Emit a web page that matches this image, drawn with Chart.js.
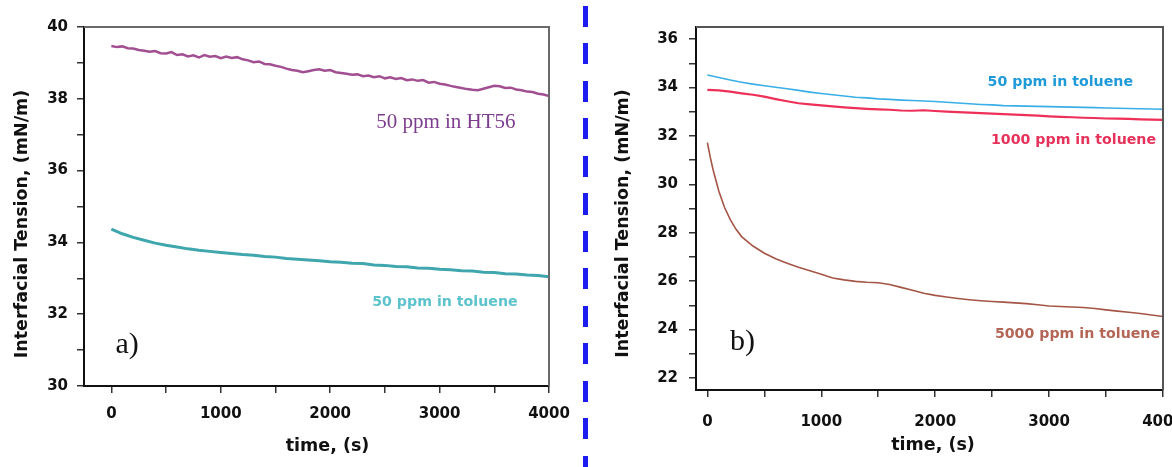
<!DOCTYPE html>
<html><head><meta charset="utf-8">
<script src="https://cdn.jsdelivr.net/npm/chart.js@4.4.1/dist/chart.umd.min.js"></script>
<style>
html,body{margin:0;padding:0;background:#fff;width:1172px;height:467px;overflow:hidden;}
#ca{position:absolute;left:0;top:0;}
#cb{position:absolute;left:590px;top:0;}
#sep{position:absolute;left:583px;top:6px;width:5px;height:470px;
 background:repeating-linear-gradient(to bottom,#1c1cf0 0px,#1c1cf0 21px,transparent 21px,transparent 37.5px);}
</style></head><body>
<canvas id="ca" width="580" height="467"></canvas>
<div id="sep"></div>
<canvas id="cb" width="582" height="467"></canvas>
<script>
// ---------- Panel a data ----------
const timeHT56 = [0,50,100,150,200,250,300,350,400,450,500,550,600,650,700,750,800,850,900,950,
 1000,1050,1100,1150,1200,1250,1300,1350,1400,1450,1500,1550,1600,1650,1700,1750,1800,1850,1900,1950,
 2000,2050,2100,2150,2200,2250,2300,2350,2400,2450,2500,2550,2600,2650,2700,2750,2800,2850,2900,2950,
 3000,3050,3100,3150,3200,3250,3300,3350,3400,3450,3500,3550,3600,3650,3700,3750,3800,3850,3900,3950,4000];
const ht56 = [39.47,39.44,39.46,39.41,39.40,39.36,39.34,39.31,39.33,39.27,39.26,39.30,39.22,39.24,39.18,39.21,39.15,39.22,39.17,39.19,
 39.13,39.18,39.14,39.16,39.10,39.07,39.02,39.04,38.97,38.96,38.92,38.89,38.84,38.80,38.78,38.74,38.77,38.80,38.82,38.78,
 38.80,38.74,38.72,38.70,38.67,38.68,38.63,38.65,38.60,38.63,38.57,38.60,38.55,38.58,38.52,38.54,38.50,38.52,38.45,38.47,
 38.42,38.40,38.36,38.33,38.30,38.27,38.25,38.24,38.28,38.32,38.36,38.35,38.30,38.31,38.26,38.24,38.20,38.19,38.14,38.12,38.08];
const time100 = [0,100,200,300,400,500,600,700,800,900,1000,1100,1200,1300,1400,1500,1600,1700,1800,1900,
 2000,2100,2200,2300,2400,2500,2600,2700,2800,2900,3000,3100,3200,3300,3400,3500,3600,3700,3800,3900,4000];
const tolueneA = [34.37,34.24,34.14,34.06,33.98,33.92,33.87,33.82,33.78,33.75,33.72,33.69,33.66,33.64,33.61,33.59,33.55,33.53,33.51,33.49,
 33.46,33.45,33.42,33.41,33.37,33.36,33.33,33.32,33.29,33.28,33.25,33.24,33.21,33.20,33.17,33.16,33.13,33.12,33.09,33.08,33.04];

// ---------- Panel b data ----------
const toluene50 = [34.52,34.41,34.31,34.22,34.14,34.07,34.01,33.95,33.88,33.81,33.75,33.70,33.65,33.60,33.57,33.53,33.51,33.48,33.46,33.44,
 33.42,33.39,33.36,33.33,33.30,33.28,33.25,33.24,33.23,33.22,33.21,33.20,33.19,33.18,33.17,33.15,33.14,33.13,33.12,33.11,33.10];
const toluene1000 = [33.90,33.88,33.83,33.76,33.70,33.62,33.52,33.43,33.35,33.30,33.26,33.22,33.18,33.15,33.12,33.10,33.08,33.05,33.04,33.06,
 33.03,33.00,32.98,32.96,32.94,32.92,32.90,32.88,32.86,32.84,32.81,32.79,32.77,32.75,32.74,32.72,32.71,32.70,32.68,32.67,32.66];
const time5000 = [0,25,50,100,150,200,250,300,400,500,600,700,800,900,1000,1100,1200,1300,1400,1500,1600,1700,1800,1900,
 2000,2100,2200,2300,2400,2500,2600,2700,2800,2900,3000,3100,3200,3300,3400,3500,3600,3700,3800,3900,4000];
const toluene5000 = [31.72,31.12,30.60,29.72,29.05,28.55,28.15,27.84,27.45,27.15,26.92,26.74,26.57,26.43,26.28,26.13,26.05,25.99,25.95,25.93,
 25.86,25.74,25.62,25.50,25.41,25.34,25.28,25.23,25.19,25.16,25.13,25.10,25.07,25.02,24.97,24.95,24.93,24.91,24.87,24.81,
 24.76,24.71,24.66,24.60,24.54];

// ---------- ticks ----------
const xTicks = [0,500,1000,1500,2000,2500,3000,3500,4000];
const xTickLabels = [0,1000,2000,3000,4000];
const yTicksA = [30,31,32,33,34,35,36,37,38,39,40];
const yTickLabelsA = [30,32,34,36,38,40];
const yTicksB = [22,23,24,25,26,27,28,29,30,31,32,33,34,35,36];
const yTickLabelsB = [22,24,26,28,30,32,34,36];

const SANS = '"DejaVu Sans", "Liberation Sans", sans-serif';
const SERIF = '"Liberation Serif", "Times New Roman", serif';

const pts = (xs, ys) => xs.map((x, i) => ({x, y: ys[i]}));

const panelPlugin = {
  id: 'panel',
  afterDraw(chart, args, o) {
    const {ctx, chartArea: a, scales} = chart;
    ctx.save();
    ctx.strokeStyle = o.frameColor; ctx.lineWidth = 2;
    ctx.beginPath(); ctx.moveTo(a.left, a.top); ctx.lineTo(a.right, a.top); ctx.lineTo(a.right, a.bottom); ctx.stroke();
    for (const t of o.texts) {
      ctx.font = t.font; ctx.fillStyle = t.color; ctx.textAlign = 'left'; ctx.textBaseline = 'middle';
      ctx.fillText(t.text, scales.x.getPixelForValue(t.x), scales.y.getPixelForValue(t.y));
    }
    ctx.fillStyle = '#111'; ctx.font = 'bold 17.5px ' + SANS; ctx.textAlign = 'center'; ctx.textBaseline = 'middle';
    ctx.fillText('time, (s)', o.xTitle[0], o.xTitle[1]);
    ctx.translate(o.yTitle[0], o.yTitle[1]); ctx.rotate(-Math.PI / 2);
    ctx.fillText('Interfacial Tension, (mN/m)', 0, 0);
    ctx.restore();
  }
};

function makePanel(id, cfg) {
  const tickFont = {family: SANS, size: 15, weight: 'bold'};
  new Chart(document.getElementById(id), {
    type: 'line',
    data: {datasets: cfg.datasets.map(d => ({
      data: d.data, borderColor: d.color, borderWidth: d.width, pointRadius: 0,
      tension: 0, fill: false
    }))},
    options: {
      responsive: false, animation: false, devicePixelRatio: 1,
      layout: {padding: {top: 27, right: cfg.padRight, left: 0, bottom: 0}},
      plugins: {legend: {display: false}, tooltip: {enabled: false}, panel: cfg.panel},
      scales: {
        x: {
          type: 'linear', min: cfg.xMin, max: 4000,
          afterBuildTicks: s => { s.ticks = xTicks.map(v => ({value: v})); },
          afterFit: s => { s.height = cfg.xAxisH; s.paddingLeft = 0; s.paddingRight = 0; },
          ticks: {autoSkip: false, maxRotation: 0, font: tickFont, color: '#111', padding: cfg.xPad,
            callback: v => xTickLabels.includes(v) ? String(v) : ''},
          grid: {drawOnChartArea: false, drawTicks: true, tickLength: 7, color: '#333', lineWidth: 1.5},
          border: {display: true, color: '#111', width: 2}
        },
        y: {
          type: 'linear', min: cfg.yMin, max: cfg.yMax,
          afterBuildTicks: s => { s.ticks = cfg.yTicks.map(v => ({value: v})); },
          afterFit: s => { s.width = cfg.yAxisW; s.paddingTop = 0; s.paddingBottom = 0; },
          ticks: {autoSkip: false, font: tickFont, color: '#111', padding: cfg.yPad,
            callback: v => cfg.yLabels.includes(v) ? String(v) : ''},
          grid: {drawOnChartArea: false, drawTicks: true, tickLength: 7, color: '#333', lineWidth: 1.5},
          border: {display: true, color: '#111', width: 2}
        }
      }
    },
    plugins: [panelPlugin]
  });
}

makePanel('ca', {
  xMin: -250, yMin: 30, yMax: 40, yTicks: yTicksA, yLabels: yTickLabelsA,
  padRight: 31, yAxisW: 84, xAxisH: 81, xPad: 12, yPad: 9,
  datasets: [
    {data: pts(timeHT56, ht56), color: '#a24f92', width: 2.5},
    {data: pts(time100, tolueneA), color: '#3fa6ae', width: 3}
  ],
  panel: {
    frameColor: '#6a6a6a', xTitle: [327.5, 446], yTitle: [22.5, 224],
    texts: [
      {text: '50 ppm in HT56', x: 2420, y: 37.33, font: '21px ' + SERIF, color: '#7d3d8e'},
      {text: '50 ppm in toluene', x: 2384, y: 32.34, font: 'bold 14.2px ' + SANS, color: '#5cc3cc'},
      {text: 'a)', x: 37, y: 31.14, font: '30px ' + SERIF, color: '#111'}
    ]
  }
});

makePanel('cb', {
  xMin: -100, yMin: 21.5, yMax: 36.5, yTicks: yTicksB, yLabels: yTickLabelsB,
  padRight: 9, yAxisW: 106, xAxisH: 77, xPad: 16, yPad: 11,
  datasets: [
    {data: pts(time100, toluene50), color: '#3aaee6', width: 1.6},
    {data: pts(time100, toluene1000), color: '#ee2f58', width: 2.2},
    {data: pts(time5000, toluene5000), color: '#a45545', width: 1.6}
  ],
  panel: {
    frameColor: '#555', xTitle: [343, 445], yTitle: [33, 223.5],
    texts: [
      {text: '50 ppm in toluene', x: 2460, y: 34.23, font: 'bold 14.2px ' + SANS, color: '#1e9ad8'},
      {text: '1000 ppm in toluene', x: 2489, y: 31.83, font: 'bold 14.2px ' + SANS, color: '#e6325a'},
      {text: '5000 ppm in toluene', x: 2524, y: 23.81, font: 'bold 14.2px ' + SANS, color: '#b46556'},
      {text: 'b)', x: 199, y: 23.48, font: '30px ' + SERIF, color: '#111'}
    ]
  }
});
</script>
</body></html>
